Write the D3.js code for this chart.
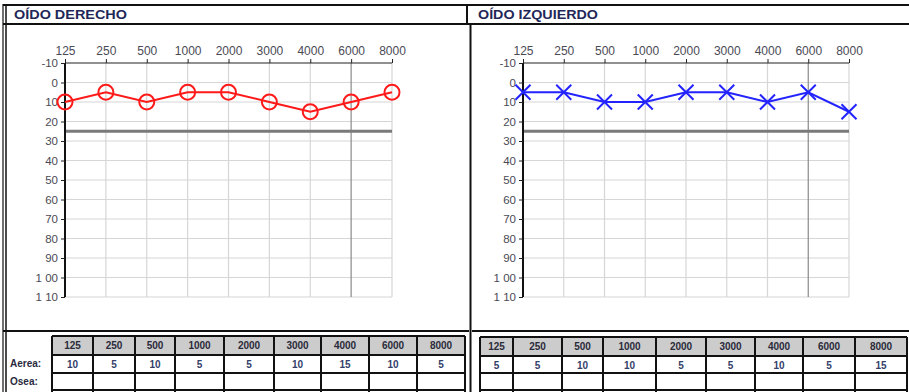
<!DOCTYPE html>
<html><head><meta charset="utf-8">
<script src="https://cdn.jsdelivr.net/npm/d3@7"></script>
<style>
html,body{margin:0;padding:0;background:#fff;}
svg{display:block;font-family:"Liberation Sans",Arial,sans-serif;}
</style></head>
<body>
<svg id="c" width="909" height="392"></svg>
<script>
// ---- data ----
const frequencies = ["125","250","500","1000","2000","3000","4000","6000","8000"];
const dbTicks = [-10,0,10,20,30,40,50,60,70,80,90,100,110];
const dbTickLabels = ["-10","0","10","20","30","40","50","60","70","80","90","1 00","1 10"];
const rightEarAir = [10,5,10,5,5,10,15,10,5];   // Oído derecho (O)
const leftEarAir  = [5,5,10,10,5,5,10,5,15];    // Oído izquierdo (X)
const referenceLevel = 25;
const panelTitles = ["OÍDO DERECHO","OÍDO IZQUIERDO"];
const rowLabels = ["Aerea:","Osea:"];

// ---- layout ----
const svg = d3.select("#c");
const panels = [
  {title:panelTitles[0], tx:14, tw:113, x0:65, x1:392, data:rightEarAir, color:"#ff1a1a", marker:"circle",
   cols:[52,93,135,175,224,274,321,369,417,465], rows:[336,355,373,390], labels:true},
  {title:panelTitles[1], tx:478, tw:120, x0:523, x1:849, data:leftEarAir, color:"#2323ff", marker:"x",
   cols:[480,513,562,603,656,706,755,803,855,907], rows:[337,356,373,390], labels:false}
];
const yTop = 63, yBot = 297;

panels.forEach(p => {
  const x = d3.scalePoint().domain(frequencies).range([p.x0, p.x1]);
  const y = d3.scaleLinear().domain([-10,110]).range([yTop, yBot]);
  const g = svg.append("g");

  // horizontal grid
  g.selectAll(".hg").data(dbTicks.slice(1)).join("line")
    .attr("x1", p.x0).attr("x2", p.x1)
    .attr("y1", d => y(d)).attr("y2", d => y(d))
    .attr("stroke", "#d6d6d6").attr("stroke-width", 1.2);
  // vertical grid
  g.selectAll(".vg").data(frequencies.slice(1)).join("line")
    .attr("x1", d => x(d)).attr("x2", d => x(d))
    .attr("y1", yTop).attr("y2", yBot)
    .attr("stroke", d => d === "6000" ? "#8a8a8a" : "#d6d6d6").attr("stroke-width", 1.2);
  // reference line
  g.append("line").attr("x1", p.x0).attr("x2", p.x1)
    .attr("y1", y(referenceLevel)).attr("y2", y(referenceLevel))
    .attr("stroke", "#7a7a7a").attr("stroke-width", 3);

  // top axis
  const ax = g.append("g").attr("transform", `translate(0,${yTop})`)
    .call(d3.axisTop(x).tickSize(4).tickPadding(4));
  ax.select(".domain").attr("stroke", "#222").attr("stroke-width", 1.2).attr("d", `M${p.x0},0H${p.x1}`);
  ax.selectAll(".tick line").attr("stroke", "#222");
  ax.selectAll(".tick text").attr("fill", "#4a4a55").attr("font-size", 12)
    .attr("font-family", "Liberation Sans, Arial, sans-serif");

  // left axis
  const ay = g.append("g").attr("transform", `translate(${p.x0},0)`)
    .call(d3.axisLeft(y).tickValues(dbTicks).tickFormat((d,i) => dbTickLabels[i]).tickSize(4).tickPadding(3));
  ay.select(".domain").attr("stroke", "#111").attr("stroke-width", 2).attr("d", `M0,${yTop}V${yBot}`);
  ay.selectAll(".tick line").attr("stroke", "#222");
  ay.selectAll(".tick text").attr("fill", "#4a4a55").attr("font-size", 11.5)
    .attr("font-family", "Liberation Sans, Arial, sans-serif");

  // series line
  const line = d3.line().x((d,i) => x(frequencies[i])).y(d => y(d));
  g.append("path").attr("d", line(p.data)).attr("fill", "none")
    .attr("stroke", p.color).attr("stroke-width", 2);
  if (p.marker === "circle") {
    g.selectAll(".m").data(p.data).join("circle")
      .attr("cx", (d,i) => x(frequencies[i])).attr("cy", d => y(d)).attr("r", 7.5)
      .attr("fill", "none").attr("stroke", p.color).attr("stroke-width", 2);
  } else {
    const s = 7.5;
    g.selectAll(".m").data(p.data).join("path")
      .attr("d", (d,i) => { const cx = x(frequencies[i]), cy = y(d);
        return `M${cx-s},${cy-s}L${cx+s},${cy+s}M${cx-s},${cy+s}L${cx+s},${cy-s}`; })
      .attr("fill", "none").attr("stroke", p.color).attr("stroke-width", 2);
  }

  // title
  svg.append("text").attr("x", p.tx).attr("y", 19).text(p.title)
    .attr("font-size", 12).attr("font-weight", "bold").attr("fill", "#1f2858")
    .attr("textLength", p.tw).attr("lengthAdjust", "spacingAndGlyphs");

  // table
  const t = svg.append("g");
  const c = p.cols, r = p.rows;
  frequencies.forEach((f,i) => {
    t.append("rect").attr("x", c[i]).attr("y", r[0]).attr("width", c[i+1]-c[i]).attr("height", r[1]-r[0])
      .attr("fill", "#cccccc");
    t.append("text").attr("x", (c[i]+c[i+1])/2).attr("y", r[0]+13).attr("text-anchor","middle")
      .attr("font-size", 10).attr("font-weight","bold").attr("fill","#2a2a3a").text(f);
    t.append("text").attr("x", (c[i]+c[i+1])/2).attr("y", r[1]+13).attr("text-anchor","middle")
      .attr("font-size", 10).attr("font-weight","bold").attr("fill","#34406a").text(p.data[i]);
  });
  c.forEach(cx => t.append("line").attr("x1", cx).attr("x2", cx).attr("y1", r[0]).attr("y2", 392)
    .attr("stroke", "#111").attr("stroke-width", 2));
  r.forEach(ry => t.append("line").attr("x1", c[0]).attr("x2", c[c.length-1]).attr("y1", ry).attr("y2", ry)
    .attr("stroke", "#111").attr("stroke-width", 2));
  if (p.labels) {
    rowLabels.forEach((l,i) => t.append("text").attr("x", 10).attr("y", r[i+1]+12)
      .attr("font-size", 10).attr("font-weight","bold").attr("fill","#2a2a40").text(l));
  }
});

// frame lines
const frame = svg.append("g").attr("stroke", "#111").attr("fill", "none");
frame.append("line").attr("x1",3).attr("x2",909).attr("y1",5).attr("y2",5).attr("stroke-width",2);
frame.append("line").attr("x1",3).attr("x2",909).attr("y1",24).attr("y2",24).attr("stroke-width",2);
frame.append("line").attr("x1",3).attr("x2",3).attr("y1",4).attr("y2",392).attr("stroke-width",1.2);
frame.append("line").attr("x1",6).attr("x2",6).attr("y1",4).attr("y2",392).attr("stroke-width",1.5);
frame.append("line").attr("x1",467).attr("x2",467).attr("y1",5).attr("y2",24).attr("stroke-width",2);
frame.append("line").attr("x1",470.5).attr("x2",470.5).attr("y1",24).attr("y2",392).attr("stroke-width",2);
frame.append("line").attr("x1",3).attr("x2",469).attr("y1",331).attr("y2",331).attr("stroke-width",2);
frame.append("line").attr("x1",472).attr("x2",909).attr("y1",331).attr("y2",331).attr("stroke-width",2);
</script>
</body></html>
